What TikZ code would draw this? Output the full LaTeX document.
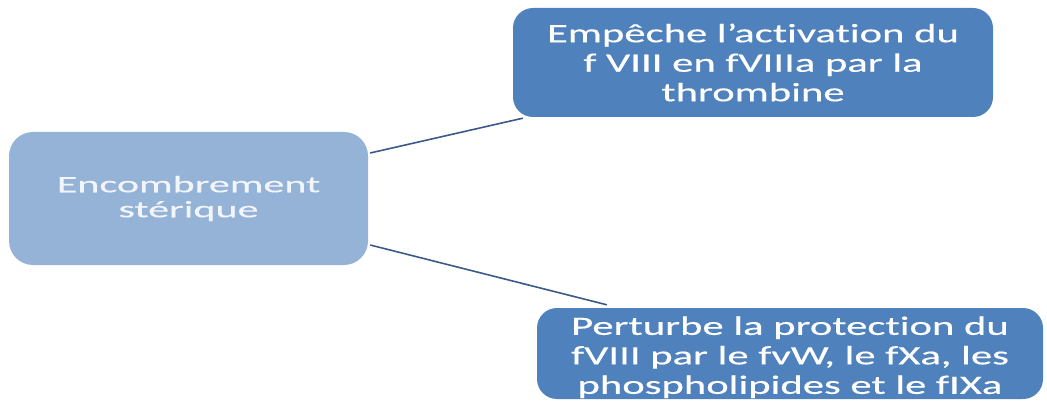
\documentclass[tikz,border=0pt]{standalone}
\usepackage{fontspec}
\setmainfont{Carlito}
\newfontfamily\wideL[FakeStretch=1.79,FakeBold=0.4,Ligatures=NoCommon]{Carlito}
\newfontfamily\wideR[FakeStretch=1.61,FakeBold=0.4,Ligatures=NoCommon]{Carlito}
\definecolor{lightbox}{HTML}{95B3D7}
\definecolor{darkbox}{HTML}{4F81BD}
\definecolor{linkcol}{HTML}{3A5A8A}
\definecolor{lighttext}{HTML}{F2F6FB}
\tikzset{
  srcbox/.style={fill=lightbox, rounded corners=24pt, inner sep=0pt, align=center,
    text=lighttext, font=\wideL\fontsize{23.5}{25}\selectfont},
  tgtbox/.style={fill=darkbox, rounded corners=20pt, inner sep=0pt, align=center,
    text=white, font=\wideR\fontsize{26.5}{29.5}\selectfont},
  link/.style={draw=linkcol, line width=1.6pt}
}
\begin{document}
\begin{tikzpicture}[x=1pt,y=-1pt]
\useasboundingbox (0,0) rectangle (1047,401);
\node[srcbox, minimum width=359pt, minimum height=133pt] (L) at (188.5,198.5) {Encombrement\\stérique};
\node[tgtbox, minimum width=480pt, minimum height=109pt] (T) at (753,62.5) {Empêche l’activation du\\f VIII en fVIIIa par la\\thrombine};
\node[tgtbox, minimum width=506pt, minimum height=91pt] (B) at (790,353.5) {\rule{0pt}{26pt}Perturbe la protection du\\fVIII par le fvW, le fXa, les\\phospholipides et le fIXa};
\draw[link] ([xshift=2pt,yshift=45.5pt]L.east) -- ([xshift=10pt,yshift=-1pt]T.south west);
\draw[link] ([xshift=2pt,yshift=-46.5pt]L.east) -- ([xshift=70pt,yshift=3pt]B.north west);
\end{tikzpicture}
\end{document}
